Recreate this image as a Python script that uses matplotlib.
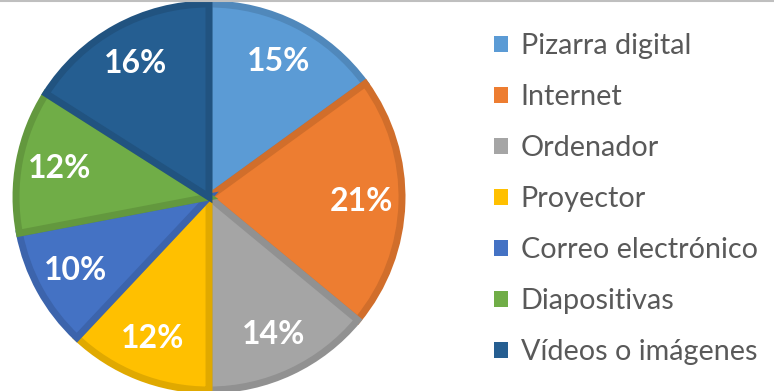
import matplotlib
matplotlib.use("Agg")
import matplotlib.pyplot as plt
from matplotlib.colors import to_rgb
from matplotlib.lines import Line2D
from matplotlib.patches import Patch

categories = [
    "Pizarra digital",
    "Internet",
    "Ordenador",
    "Proyector",
    "Correo electrónico",
    "Diapositivas",
    "Vídeos o imágenes",
]
shares = [15, 21, 14, 12, 10, 12, 16]
colors = ["#5B9BD5", "#ED7D31", "#A5A5A5", "#FFC000", "#4472C4", "#70AD47", "#255E91"]

W, H, DPI = 774, 391, 100
plt.rcParams["font.family"] = ["Lato", "DejaVu Sans"]


def darker(c, f=0.88):
    r, g, b = to_rgb(c)
    return (r * f, g * f, b * f)


fig = plt.figure(figsize=(W / DPI, H / DPI), dpi=DPI)

# pie area in pixels: centre (209, 197), radius 193
cx, cy, rad = 209, 197, 193
ax = fig.add_axes([(cx - rad) / W, (H - cy - rad) / H, 2 * rad / W, 2 * rad / H])
wedges, texts = ax.pie(
    shares,
    colors=colors,
    startangle=90,
    counterclock=False,
    radius=1.0,
    labels=[f"{v}%" for v in shares],
    labeldistance=0.79,
    textprops=dict(color="white", fontsize=23, fontweight="bold", ha="center", va="center"),
)
for w, c in zip(wedges, colors):
    # border kept inside each slice
    w.set_edgecolor(darker(c))
    w.set_linewidth(5)
    w.set_clip_path(w)
ax.set_xlim(-1, 1)
ax.set_ylim(-1, 1)
ax.set_aspect("equal")
ax.axis("off")

handles = [Patch(facecolor=c, edgecolor="none") for c in colors]
leg = fig.legend(
    handles,
    categories,
    loc="upper left",
    bbox_to_anchor=(494 / W, 1 - 33 / H),
    frameon=False,
    fontsize=20.7,
    handlelength=0.48,
    handleheight=0.48,
    handletextpad=0.45,
    labelspacing=0.87,
    borderaxespad=0,
    borderpad=0,
)
for t in leg.get_texts():
    t.set_color("#595959")

# thin grey rule along the top edge
fig.add_artist(Line2D([0, 1], [1 - 1 / H, 1 - 1 / H], transform=fig.transFigure,
                      color="#BFBFBF", linewidth=1.5))

fig.savefig("out.png", dpi=DPI)
